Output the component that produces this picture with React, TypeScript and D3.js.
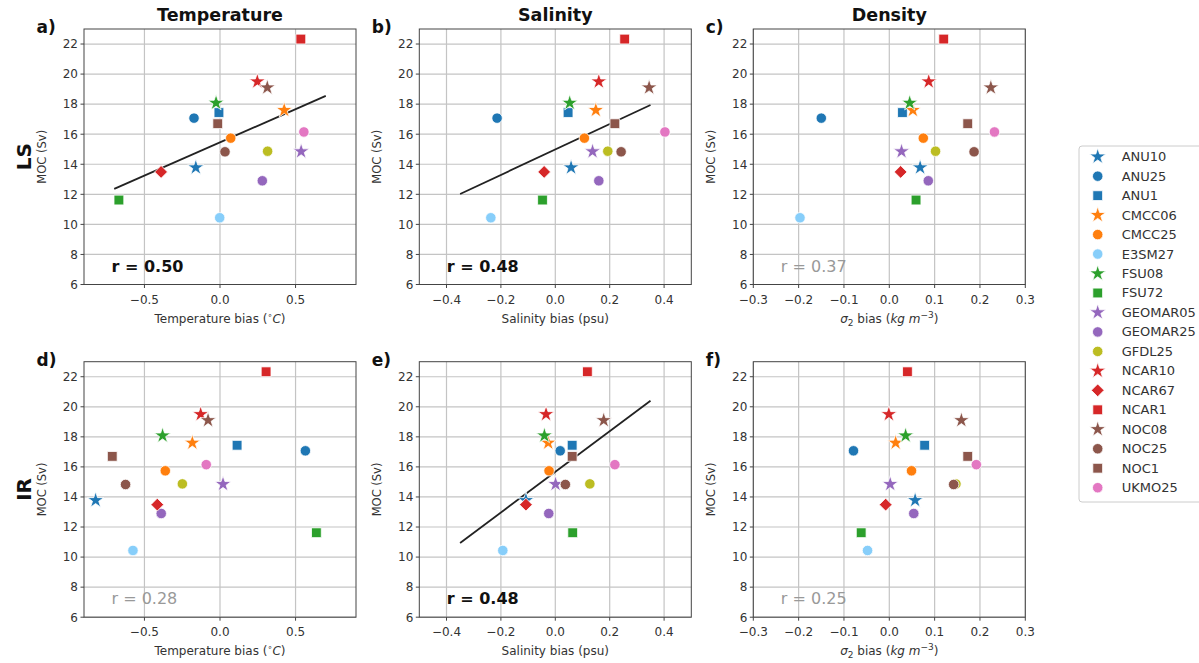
import React from 'react';
import * as d3 from 'd3';

const models = ['ANU10','ANU25','ANU1','CMCC06','CMCC25','E3SM27','FSU08','FSU72','GEOMAR05','GEOMAR25','GFDL25','NCAR10','NCAR67','NCAR1','NOC08','NOC25','NOC1','UKMO25'];
const markers = ['star','circle','square','star','circle','circle','star','square','star','circle','circle','star','diamond','square','star','circle','square','circle'];
const colors = ['#1f77b4','#1f77b4','#1f77b4','#ff7f0e','#ff7f0e','#87cefa','#2ca02c','#2ca02c','#9467bd','#9467bd','#bcbd22','#d62728','#d62728','#d62728','#8c564b','#8c564b','#8c564b','#e377c2'];

// MOC (Sv), same in both rows
const moc = [13.78,17.07,17.44,17.6,15.74,10.44,18.08,11.62,14.85,12.9,14.87,19.5,13.49,22.33,19.1,14.83,16.7,16.15];

// LS biases
const tempLS = [-0.16,-0.172,-0.007,0.425,0.071,-0.002,-0.026,-0.669,0.537,0.28,0.315,0.247,-0.39,0.535,0.313,0.033,-0.015,0.555];
const saltLS = [0.058,-0.214,0.047,0.149,0.107,-0.237,0.053,-0.047,0.137,0.16,0.193,0.16,-0.041,0.255,0.345,0.242,0.219,0.403];
const densLS = [0.068,-0.15,0.029,0.052,0.075,-0.197,0.045,0.059,0.027,0.086,0.102,0.087,0.025,0.12,0.224,0.187,0.173,0.232];
// IR biases
const tempIR = [-0.823,0.565,0.113,-0.183,-0.362,-0.576,-0.38,0.638,0.02,-0.389,-0.249,-0.128,-0.415,0.305,-0.079,-0.625,-0.713,-0.091];
const saltIR = [-0.108,0.018,0.062,-0.026,-0.023,-0.193,-0.04,0.064,0.001,-0.024,0.127,-0.034,-0.108,0.118,0.178,0.037,0.062,0.219];
const densIR = [0.057,-0.079,0.078,0.014,0.049,-0.048,0.036,-0.062,0.002,0.054,0.147,-0.001,-0.008,0.04,0.159,0.142,0.173,0.192];

const rowNames = ['LS','IR'];
const colTitles = ['Temperature','Salinity','Density'];
const panelLetters = ['a)','b)','c)','d)','e)','f)'];
const rTexts = ['r = 0.50','r = 0.48','r = 0.37','r = 0.28','r = 0.48','r = 0.25'];
const significant = [true,true,false,false,true,false];
const xDomains = [[-0.9,0.9],[-0.5,0.5],[-0.3,0.3]];
const xTicks = [[-0.5,0,0.5],[-0.4,-0.2,0,0.2,0.4],[-0.3,-0.2,-0.1,0,0.1,0.2,0.3]];
const fitRanges = [[-0.7,0.7],[-0.35,0.35],[-0.35,0.35]];
const yDomain = [6,23];
const yTicks = [6,8,10,12,14,16,18,20,22];

const xData = [[tempLS,saltLS,densLS],[tempIR,saltIR,densIR]];

const FONT = 'DejaVu Sans, sans-serif';
const colLeft = [84,419.3,753.3];
const axW = 272;
const rowTop = [29,361.7];
const axH = 255.5;

function fmt(v: number, dec: number) {
  const s = Math.abs(v).toFixed(dec);
  return (v < -1e-9 ? '\u2212' : '') + s;
}

function symbolPath(m: string) {
  if (m === 'star') return d3.symbol(d3.symbolStar, 82)() as string;
  if (m === 'circle') return d3.symbol(d3.symbolCircle, 86)() as string;
  if (m === 'square') return d3.symbol(d3.symbolSquare, 96)() as string;
  return d3.symbol(d3.symbolSquare, 82)() as string;
}

function Marker({ m, c, x, y }: { m: string; c: string; x: number; y: number }) {
  const rot = m === 'diamond' ? ' rotate(45)' : '';
  return <path d={symbolPath(m)} transform={`translate(${x},${y})${rot}`} fill={c} stroke="#fff" strokeWidth={0.8} />;
}

function xLabel(col: number) {
  if (col === 0) return (
    <>Temperature bias (<tspan fontSize={8} dy={-5}>{'\u2218'}</tspan><tspan dy={5} fontStyle="italic">C</tspan>)</>
  );
  if (col === 1) return <>Salinity bias (psu)</>;
  return (
    <><tspan fontStyle="italic">{'\u03c3'}</tspan><tspan fontSize={9} dy={3}>2</tspan><tspan dy={-3}> bias (</tspan><tspan fontStyle="italic">kg m</tspan><tspan fontSize={9} dy={-5}>{'\u22123'}</tspan><tspan dy={5}>)</tspan></>
  );
}

function Panel({ row, col }: { row: number; col: number }) {
  const idx = row * 3 + col;
  const x0 = colLeft[col];
  const y0 = rowTop[row];
  const xs = d3.scaleLinear().domain(xDomains[col]).range([x0, x0 + axW]);
  const ys = d3.scaleLinear().domain(yDomain).range([y0 + axH, y0]);
  const xv = xData[row][col];
  let fit: any = null;
  if (significant[idx]) {
    const mx = d3.mean(xv) as number;
    const my = d3.mean(moc) as number;
    let sxy = 0, sxx = 0;
    xv.forEach((v, i) => { sxy += (v - mx) * (moc[i] - my); sxx += (v - mx) * (v - mx); });
    const b = sxy / sxx;
    const a = my - b * mx;
    const [f0, f1] = fitRanges[col];
    const line = d3.line<number>().x(v => xs(v)).y(v => ys(a + b * v));
    fit = <path d={line([f0, f1]) as string} stroke="#222" strokeWidth={1.8} fill="none" />;
  }
  return (
    <g>
      {xTicks[col].map(t => (
        <line key={'gx' + t} x1={xs(t)} x2={xs(t)} y1={y0} y2={y0 + axH} stroke="#c4c4c4" strokeWidth={1.2} />
      ))}
      {yTicks.map(t => (
        <line key={'gy' + t} x1={x0} x2={x0 + axW} y1={ys(t)} y2={ys(t)} stroke="#c4c4c4" strokeWidth={1.2} />
      ))}
      {fit}
      {models.map((m, i) => (
        <Marker key={m} m={markers[i]} c={colors[i]} x={xs(xv[i])} y={ys(moc[i])} />
      ))}
      <rect x={x0} y={y0} width={axW} height={axH} fill="none" stroke="#444" strokeWidth={1} />
      {xTicks[col].map(t => (
        <g key={'tx' + t}>
          <line x1={xs(t)} x2={xs(t)} y1={y0 + axH} y2={y0 + axH + 3.5} stroke="#444" />
          <text x={xs(t)} y={y0 + axH + 19} textAnchor="middle" fontSize={12} fill="#333" fontFamily={FONT}>{fmt(t, 1)}</text>
        </g>
      ))}
      {yTicks.map(t => (
        <g key={'ty' + t}>
          <line x1={x0 - 3.5} x2={x0} y1={ys(t)} y2={ys(t)} stroke="#444" />
          <text x={x0 - 6} y={ys(t) + 4.3} textAnchor="end" fontSize={12} fill="#333" fontFamily={FONT}>{t}</text>
        </g>
      ))}
      <text x={x0 + axW / 2} y={y0 + axH + 38} textAnchor="middle" fontSize={12} fill="#333" fontFamily={FONT}>{xLabel(col)}</text>
      <text transform={`translate(${x0 - 38},${y0 + axH / 2}) rotate(-90)`} textAnchor="middle" fontSize={11.5} fill="#333" fontFamily={FONT}>MOC (Sv)</text>
      <text x={x0 - 47.5} y={y0 + 4} fontSize={17} fontWeight="bold" fill="#111" fontFamily={FONT}>{panelLetters[idx]}</text>
      <text x={x0 + 27.5} y={y0 + axH - 13} fontSize={16} fontWeight={significant[idx] ? 'bold' : 'normal'} fill={significant[idx] ? '#111' : '#999'} fontFamily={FONT}>{rTexts[idx]}</text>
    </g>
  );
}

export default function App() {
  return (
    <svg width={1199} height={663} style={{ display: 'block', position: 'absolute', left: 0, top: 0, background: '#fff' }}>
      <rect width={1199} height={663} fill="#fff" />
      {colTitles.map((t, c) => (
        <text key={t} x={colLeft[c] + axW / 2} y={21} textAnchor="middle" fontSize={17.5} fontWeight="bold" fill="#111" fontFamily={FONT}>{t}</text>
      ))}
      {rowNames.map((r, ri) => (
        <text key={r} transform={`translate(${31},${rowTop[ri] + axH / 2}) rotate(-90)`} textAnchor="middle" fontSize={20} fontWeight="bold" fill="#111" fontFamily={FONT}>{r}</text>
      ))}
      {[0, 1].map(r => [0, 1, 2].map(c => <Panel key={r + '-' + c} row={r} col={c} />))}
      <rect x={1079} y={146} width={140} height={356} rx={3} fill="#fff" stroke="#ccc" strokeWidth={1} />
      {models.map((m, i) => {
        const y = 156.7 + i * 19.47;
        return (
          <g key={'lg' + m}>
            <Marker m={markers[i]} c={colors[i]} x={1097.7} y={y} />
            <text x={1121.7} y={y + 4.5} fontSize={13} fill="#333" fontFamily={FONT}>{m}</text>
          </g>
        );
      })}
    </svg>
  );
}
